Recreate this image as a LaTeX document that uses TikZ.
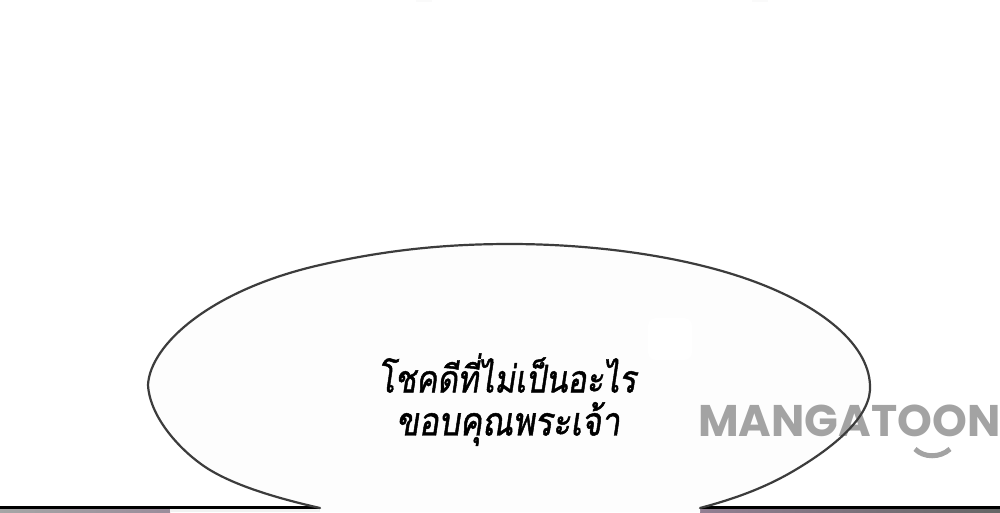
\documentclass[tikz,border=0pt]{standalone}
\usepackage{fontspec}
\newfontfamily\thaifont[Script=Thai,FakeSlant=0.15,FakeBold=1.2,FakeStretch=0.83]{Loma}
\newfontfamily\logofont{Poppins}
\definecolor{logogray}{HTML}{A3A3A3}
\definecolor{inkline}{HTML}{3C3C3C}
\definecolor{bubblefill}{HTML}{FDFDFD}
\tikzset{x=1pt,y=-1pt,
  speech/.style={text=black,inner sep=0pt,anchor=center},
  logotext/.style={font=\logofont\bfseries\fontsize{44.3}{46}\selectfont,text=logogray,inner sep=0pt,anchor=west},
  bubbleline/.style={draw=inkline,line width=2.2pt,line cap=round}}
\begin{document}
\begin{tikzpicture}
\useasboundingbox (0,0) rectangle (1000,512);
\fill[white] (0,0) rectangle (1000,512);
\fill[black!2] (416,0) rectangle (432,2);
\fill[black!2] (752,0) rectangle (768,2);
% bottom strip of next panel
\fill[black] (0,506) rectangle (1000,509);
\shade[left color=black!35!white,right color=violet!25!black!45!white] (0,509) rectangle (170,512);
\fill[black!5] (170,509) rectangle (330,512);
\shade[left color=violet!30!black!50!white,right color=black!60!white] (700,509) rectangle (1000,512);
% bubble
\fill[bubblefill]
  (148,385) .. controls (150,345) and (210,290) .. (320,265)
  .. controls (390,249) and (450,244) .. (510,244)
  .. controls (590,244) and (680,255) .. (750,280)
  .. controls (820,305) and (872,345) .. (870,390)
  .. controls (868,420) and (830,450) .. (790,473)
  .. controls (760,490) and (730,500) .. (700,508)
  -- (700,512) -- (320,512) -- (320,508)
  .. controls (285,500) and (240,488) .. (210,470)
  .. controls (185,455) and (150,420) .. (148,385) -- cycle;
\fill[white,rounded corners=8pt] (648,318) rectangle (692,360);
% logo
\node[logotext] (logo) at (698,421) {MANGATOON};
\coordinate (smileL) at (915,449);
\coordinate (smileR) at (950,449);
\draw[logogray,line width=5pt] (smileL) .. controls (924,458) and (940,458) .. (smileR);
\draw[bubbleline]
  (320,508) .. controls (285,500) and (240,488) .. (210,470)
  .. controls (185,455) and (150,420) .. (148,385)
  .. controls (150,345) and (210,290) .. (320,265)
  .. controls (390,249) and (450,244) .. (510,244)
  .. controls (590,244) and (680,255) .. (750,280)
  .. controls (820,305) and (872,345) .. (870,390)
  .. controls (868,420) and (830,450) .. (790,473)
  .. controls (760,490) and (730,500) .. (700,508);
% speech
\node[speech,font=\thaifont\fontsize{38}{38}\selectfont] (lineone) at (507,373) {โชคดีที่ไม่เป็นอะไร};
\node[speech,font=\thaifont\fontsize{40}{40}\selectfont] (linetwo) at (508,424) {ขอบคุณพระเจ้า};
\end{tikzpicture}
\end{document}
